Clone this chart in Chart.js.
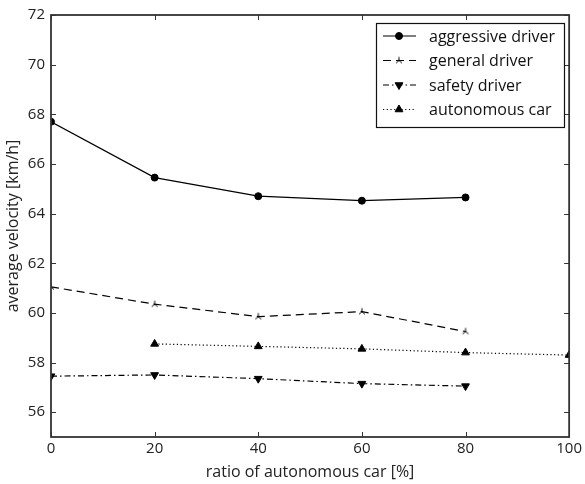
<!DOCTYPE html>
<html>
<head>
<meta charset="utf-8">
<script src="https://cdn.jsdelivr.net/npm/chart.js@4.4.0/dist/chart.umd.min.js"></script>
<style>
  html, body { margin: 0; padding: 0; background: #fff; }
  #wrap { width: 585px; height: 484px; }
</style>
</head>
<body>
<div id="wrap"><canvas id="myChart" width="585" height="484"></canvas></div>
<script>
// ratio of autonomous car [%]
const ratios = [0, 20, 40, 60, 80, 100];
const aggressive = [67.7, 65.45, 64.7, 64.52, 64.65, null];
const general = [61.05, 60.35, 59.85, 60.05, 59.25, null];
const safety = [57.45, 57.5, 57.35, 57.15, 57.05, null];
const autonomous = [null, 58.75, 58.65, 58.55, 58.4, 58.3];
const xTicks = [0, 20, 40, 60, 80, 100];
const yTicks = [56, 58, 60, 62, 64, 66, 68, 70, 72];

const FONT = "'Open Sans', 'DejaVu Sans', sans-serif";

// маленький маркер "tri_up" для general driver
function triMarker() {
    const c = document.createElement('canvas');
    c.width = 10; c.height = 10;
    const g = c.getContext('2d');
    g.strokeStyle = '#000';
    g.lineWidth = 1;
    g.beginPath();
    g.moveTo(5, 5); g.lineTo(5, 1.5);
    g.moveTo(5, 5); g.lineTo(2, 7.5);
    g.moveTo(5, 5); g.lineTo(8, 7.5);
    g.stroke();
    return c;
}
const tri = triMarker();

function toXY(arr) {
    return ratios.map((x, i) => ({ x: x, y: arr[i] }));
}

const datasets = [
    { label: 'aggressive driver', data: toXY(aggressive), borderDash: [], pointStyle: 'circle', pointRadius: 3.5, rotation: 0 },
    { label: 'general driver', data: toXY(general), borderDash: [8, 5], pointStyle: tri, pointRadius: 5, rotation: 0 },
    { label: 'safety driver', data: toXY(safety), borderDash: [6, 3, 1.5, 3], pointStyle: 'triangle', pointRadius: 4.5, rotation: 180 },
    { label: 'autonomous car', data: toXY(autonomous), borderDash: [1.2, 2.5], pointStyle: 'triangle', pointRadius: 4.5, rotation: 0 }
].map(d => Object.assign(d, {
    borderColor: '#000',
    backgroundColor: '#000',
    borderWidth: 1.2,
    pointBorderWidth: 1,
    pointBorderColor: '#000',
    pointBackgroundColor: '#000',
    spanGaps: false,
    clip: 0
}));

// внутренние засечки на всех четырех сторонах, как в matplotlib
const frameTicks = {
    id: 'frameTicks',
    afterDatasetsDraw(chart) {
        const ctx = chart.ctx;
        const a = chart.chartArea;
        const xs = chart.scales.x, ys = chart.scales.y;
        ctx.save();
        ctx.strokeStyle = '#333';
        ctx.lineWidth = 1;
        ctx.beginPath();
        xTicks.forEach(v => {
            const px = Math.round(xs.getPixelForValue(v)) + 0.5;
            ctx.moveTo(px, a.bottom); ctx.lineTo(px, a.bottom - 5);
            ctx.moveTo(px, a.top); ctx.lineTo(px, a.top + 5);
        });
        yTicks.forEach(v => {
            const py = Math.round(ys.getPixelForValue(v)) + 0.5;
            ctx.moveTo(a.left, py); ctx.lineTo(a.left + 5, py);
            ctx.moveTo(a.right, py); ctx.lineTo(a.right - 5, py);
        });
        ctx.stroke();
        ctx.lineWidth = 1.8;
        ctx.strokeRect(a.left, a.top, a.right - a.left, a.bottom - a.top);
        ctx.restore();
    }
};

// легенда в рамке справа сверху
const boxLegend = {
    id: 'boxLegend',
    afterDraw(chart) {
        const ctx = chart.ctx;
        const bx = 376, by = 23, bw = 188, bh = 104;
        ctx.save();
        ctx.fillStyle = '#fff';
        ctx.fillRect(bx, by, bw, bh);
        ctx.strokeStyle = '#111';
        ctx.lineWidth = 1.2;
        ctx.strokeRect(bx + 0.5, by + 0.5, bw, bh);
        ctx.font = '16px ' + FONT;
        ctx.textBaseline = 'middle';
        chart.data.datasets.forEach((d, i) => {
            const y = by + 13 + i * 24.5;
            ctx.strokeStyle = '#000';
            ctx.lineWidth = 1.2;
            ctx.setLineDash(d.borderDash);
            ctx.beginPath();
            ctx.moveTo(bx + 7, y); ctx.lineTo(bx + 40, y);
            ctx.stroke();
            ctx.setLineDash([]);
            ctx.fillStyle = '#000';
            ctx.lineWidth = 1;
            Chart.helpers.drawPoint(ctx, {
                pointStyle: d.pointStyle,
                radius: d.pointRadius,
                rotation: d.rotation,
                borderWidth: 1
            }, bx + 23, y);
            ctx.fillStyle = '#111';
            ctx.fillText(d.label, bx + 53, y + 1);
        });
        ctx.restore();
    }
};

new Chart(document.getElementById('myChart').getContext('2d'), {
    type: 'line',
    data: { datasets: datasets },
    options: {
        responsive: false,
        animation: false,
        layout: { padding: { top: 15, right: 15, left: 0, bottom: 0 } },
        plugins: { legend: { display: false }, tooltip: { enabled: false } },
        scales: {
            x: {
                type: 'linear',
                min: 0, max: 100,
                afterBuildTicks: s => { s.ticks = xTicks.map(v => ({ value: v })); },
                afterFit: s => { s.height = 47; },
                grid: { display: false, drawTicks: false },
                border: { display: false },
                ticks: { color: '#222', font: { family: FONT, size: 15 }, padding: 3, maxRotation: 0 },
                title: { display: true, text: 'ratio of autonomous car [%]', color: '#222', font: { family: FONT, size: 16 }, padding: { top: 0, bottom: 2 } }
            },
            y: {
                type: 'linear',
                min: 55, max: 72,
                afterBuildTicks: s => { s.ticks = yTicks.map(v => ({ value: v })); },
                afterFit: s => { s.width = 51; },
                grid: { display: false, drawTicks: false },
                border: { display: false },
                ticks: { color: '#222', font: { family: FONT, size: 15 }, padding: 6 },
                title: { display: true, text: 'average velocity [km/h]', color: '#222', font: { family: FONT, size: 16 }, padding: { bottom: 1 } }
            }
        }
    },
    plugins: [frameTicks, boxLegend]
});
</script>
</body>
</html>
